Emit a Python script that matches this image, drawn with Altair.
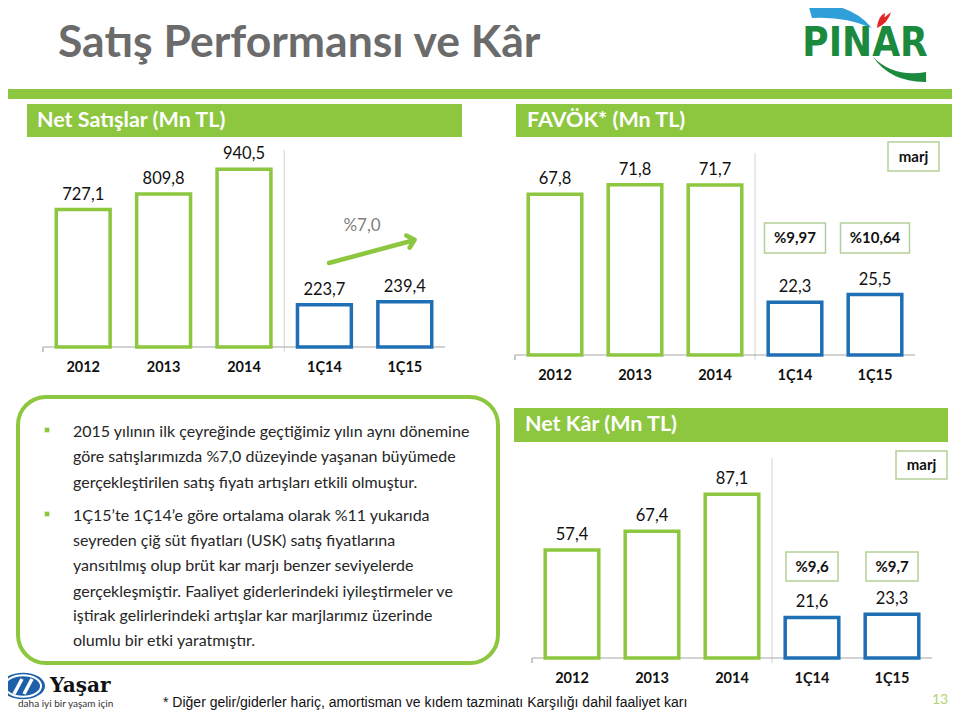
import altair as alt
import pandas as pd

# ---------------- data ----------------
categories = ["2012", "2013", "2014", "1Ç14", "1Ç15"]
period_type = ["yıllık", "yıllık", "yıllık", "çeyrek", "çeyrek"]
net_sales = [727.1, 809.8, 940.5, 223.7, 239.4]
ebitda = [67.8, 71.8, 71.7, 22.3, 25.5]
net_profit = [57.4, 67.4, 87.1, 21.6, 23.3]
quarter_cats = ["1Ç14", "1Ç15"]
ebitda_margins = ["%9,97", "%10,64"]
net_profit_margins = ["%9,6", "%9,7"]
sales_growth = "%7,0"

bullet_1 = [
    "2015 yılının ilk çeyreğinde geçtiğimiz yılın aynı dönemine",
    "göre satışlarımızda %7,0 düzeyinde yaşanan büyümede",
    "gerçekleştirilen satış fiyatı artışları etkili olmuştur.",
]
bullet_2 = [
    "1Ç15’te 1Ç14’e göre ortalama olarak %11 yukarıda",
    "seyreden çiğ süt fiyatları (USK) satış fiyatlarına",
    "yansıtılmış olup brüt kar marjı benzer seviyelerde",
    "gerçekleşmiştir. Faaliyet giderlerindeki iyileştirmeler ve",
    "iştirak gelirlerindeki artışlar kar marjlarımız üzerinde",
    "olumlu bir etki yaratmıştır.",
]

# ---------------- style ----------------
GREEN = "#8DC63F"
BLUE = "#1F6FB5"
FONT = "Lato"
M = 8  # page margin


def X(v):
    return v - M


def Y(v):
    return v - M


one = pd.DataFrame({"k": [0]})


def fmt(v):
    return f"{v:.1f}".replace(".", ",")


def txt(s, x, y, size, color="#111111", weight="normal", align="left",
        font=FONT, baseline="middle"):
    return alt.Chart(one).mark_text(
        text=s, align=align, baseline=baseline, font=font, fontSize=size,
        fontWeight=weight, color=color
    ).encode(x=alt.value(X(x)), y=alt.value(Y(y)))


def rect(x0, y0, x1, y1, fill="white", stroke=None, sw=0, r=0, fill_opacity=1):
    kw = dict(fill=fill, fillOpacity=fill_opacity, cornerRadius=r)
    if stroke:
        kw.update(stroke=stroke, strokeWidth=sw)
    return alt.Chart(one).mark_rect(**kw).encode(
        x=alt.value(X(x0)), x2=alt.value(X(x1)),
        y=alt.value(Y(y0)), y2=alt.value(Y(y1)))


def rule(x0, y0, x1, y1, color, sw=1, cap="butt"):
    return alt.Chart(one).mark_rule(color=color, strokeWidth=sw, strokeCap=cap).encode(
        x=alt.value(X(x0)), x2=alt.value(X(x1)),
        y=alt.value(Y(y0)), y2=alt.value(Y(y1)))


def symbol(path, x, y, size, color, filled=True, sw=1, angle=0):
    kw = dict(shape=path, size=size, filled=filled, opacity=1)
    if filled:
        kw.update(fill=color, strokeWidth=0)
    else:
        kw.update(stroke=color, strokeWidth=sw, strokeCap="round", strokeJoin="round")
    if angle:
        kw.update(angle=angle)
    return alt.Chart(one).mark_point(**kw).encode(x=alt.value(X(x)), y=alt.value(Y(y)))


def panel(values, x0, x1, base, ppu, dmax, sep_top, cat_y,
          margins=None, margin_widths=None, box_y=None):
    df = pd.DataFrame({"cat": categories, "typ": period_type,
                       "val": values, "lbl": [fmt(v) for v in values]})
    xs = alt.X("cat:N", sort=categories, axis=None,
               scale=alt.Scale(range=[X(x0), X(x1)], paddingInner=0.33, paddingOuter=0.165))
    ys = alt.Y("val:Q", axis=None,
               scale=alt.Scale(domain=[0, dmax], range=[Y(base), Y(base - dmax * ppu)],
                               nice=False, zero=True))
    stroke = alt.Stroke("typ:N", legend=None,
                        scale=alt.Scale(domain=["yıllık", "çeyrek"], range=[GREEN, BLUE]))
    c = alt.Chart(df)
    bars = c.mark_bar(fill="white", strokeWidth=3.5).encode(x=xs, y=ys, stroke=stroke)
    labels = c.mark_text(baseline="bottom", dy=-7, font=FONT, fontSize=16.5,
                         color="#111111").encode(x=xs, y=ys, text="lbl:N")
    cats = c.mark_text(baseline="middle", font=FONT, fontSize=14.5, fontWeight="bold",
                       color="#111111").encode(x=xs, y=alt.value(Y(cat_y)), text="cat:N")
    sep = x0 + 3 * (x1 - x0) / 5
    layers = [
        rule(sep, sep_top, sep, base + 5, "#d4d4d4", 1),
        rule(x0, base, x1, base, "#a6a6a6", 1.2),
        rule(x0, base, x0, base + 5, "#a6a6a6", 1.2),
        bars, labels, cats,
    ]
    if margins:
        mdf = pd.DataFrame({"cat": quarter_cats, "m": margins, "w": margin_widths})
        mc = alt.Chart(mdf)
        boxes = mc.mark_bar(fill="white", stroke="#b5cf9a", strokeWidth=1.5).encode(
            x=xs, size=alt.Size("w:Q", scale=None, legend=None),
            y=alt.value(Y(box_y[0])), y2=alt.value(Y(box_y[1])))
        mtext = mc.mark_text(baseline="middle", font=FONT, fontSize=15, fontWeight="bold",
                             color="#111111").encode(
            x=xs, y=alt.value(Y((box_y[0] + box_y[1]) / 2)), text="m:N")
        layers += [boxes, mtext]
    return alt.layer(*layers)


layers = []

# ---------- slide header ----------
layers.append(txt("Satış Performansı ve Kâr", 58, 57, 44.5, color="#6b6b6b",
                  weight="bold", baseline="alphabetic"))
layers.append(rect(0, 89, 960, 99, fill=GREEN))

# PINAR logo
layers.append(symbol("M -0.91 -0.34 Q 0.3 -0.4 0.91 0.34 Q 0.1 0.0 -0.8 0.06 Z",
                     840, 16, 4900, "#2E9FD9"))
layers.append(symbol("M -0.7 0.8 Q -0.6 -0.4 0.1 -0.7 L 0.05 -0.25 L 0.7 -0.8 Q 0.4 0.3 -0.7 0.8 Z",
                     884, 20, 400, "#E32526"))
layers.append(symbol("M -0.9 -0.4 Q -0.3 0.45 0.87 0.43 L 0.87 0.1 Q -0.2 0.3 -0.9 -0.4 Z",
                     900, 69, 3600, "#1B8A3E"))
layers.append(txt("PINAR", 865, 44, 40, color="#1B8A3E", weight="bold", align="center",
                  font="DejaVu Sans Condensed, Liberation Sans Narrow, Liberation Sans"))

# ---------- Net Satışlar ----------
layers.append(rect(27, 104, 462, 137, fill=GREEN))
layers.append(txt("Net Satışlar (Mn TL)", 37, 121, 21.5, color="white", weight="bold"))
layers.append(panel(net_sales, 43, 445, 347, 0.189, 1000, 150, 368))
layers.append(txt(sales_growth, 362, 226, 17, color="#7f7f7f", align="center"))
layers.append(rule(329, 263, 411, 241, GREEN, 4.5, cap="round"))
layers.append(symbol("M -0.9 -0.9 L 0.1 0 L -0.9 0.9", 414, 240, 196, GREEN,
                     filled=False, sw=4.5, angle=345))

# ---------- FAVÖK ----------
layers.append(rect(516, 104, 952, 137, fill=GREEN))
layers.append(txt("FAVÖK* (Mn TL)", 527, 121, 21.5, color="white", weight="bold"))
layers.append(rect(888, 142, 939, 171, fill="white", stroke="#b5cf9a", sw=1.5))
layers.append(txt("marj", 913.5, 157, 15, weight="bold", align="center"))
layers.append(panel(ebitda, 515, 915, 355, 2.37, 100, 153, 376,
                    margins=ebitda_margins, margin_widths=[61, 69], box_y=(223, 253)))

# ---------- Text box ----------
layers.append(rect(18, 397, 498, 663, fill="white", stroke=GREEN, sw=4, r=28, fill_opacity=0))
line_ys_1 = [432, 457, 483]
line_ys_2 = [516, 541, 566, 592, 616, 641]
for s, yy in zip(bullet_1, line_ys_1):
    layers.append(txt(s, 73, yy, 16, color="#262626"))
for s, yy in zip(bullet_2, line_ys_2):
    layers.append(txt(s, 73, yy, 16, color="#262626"))
for yy in (line_ys_1[0], line_ys_2[0]):
    layers.append(symbol("square", 47, yy - 2, 22, GREEN))

# ---------- Net Kâr ----------
layers.append(rect(514, 408, 948, 442, fill=GREEN))
layers.append(txt("Net Kâr (Mn TL)", 525, 425, 21.5, color="white", weight="bold"))
layers.append(rect(896, 451, 947, 479, fill="white", stroke="#b5cf9a", sw=1.5))
layers.append(txt("marj", 921.5, 465, 15, weight="bold", align="center"))
layers.append(panel(net_profit, 532, 932, 658, 1.88, 100, 458, 679,
                    margins=net_profit_margins, margin_widths=[52, 52], box_y=(552, 581)))

# ---------- footer ----------
ellipse = "M -1 0 A 1 0.6 0 1 0 1 0 A 1 0.6 0 1 0 -1 0 Z"
layers.append(symbol(ellipse, 23, 686, 1936, "#1D5FA8"))
layers.append(symbol(ellipse, 23, 686, 1300, "white", filled=False, sw=2))
layers.append(rule(14, 694, 22, 679, "white", 3.5))
layers.append(rule(24, 694, 32, 679, "white", 3.5))
layers.append(txt("Yaşar", 50, 692, 20, color="#111111", weight="bold",
                  font="DejaVu Serif", baseline="alphabetic"))
layers.append(txt("daha iyi bir yaşam için", 18, 704, 10, color="#333333"))
layers.append(txt("* Diğer gelir/giderler hariç, amortisman ve kıdem tazminatı Karşılığı dahil faaliyet karı",
                  163, 703, 14, color="#111111",
                  font="Liberation Sans Narrow, Arial Narrow, Liberation Sans"))
layers.append(txt("13", 940, 700, 14, color="#b2d36b", align="center"))

chart = alt.layer(*layers).resolve_scale(
    x="independent", y="independent", stroke="independent", size="independent"
).properties(
    width=944, height=703, autosize="none", padding=0
).configure_view(stroke=None)

chart.save("out.html", embed_options={"renderer": "svg", "actions": False})
